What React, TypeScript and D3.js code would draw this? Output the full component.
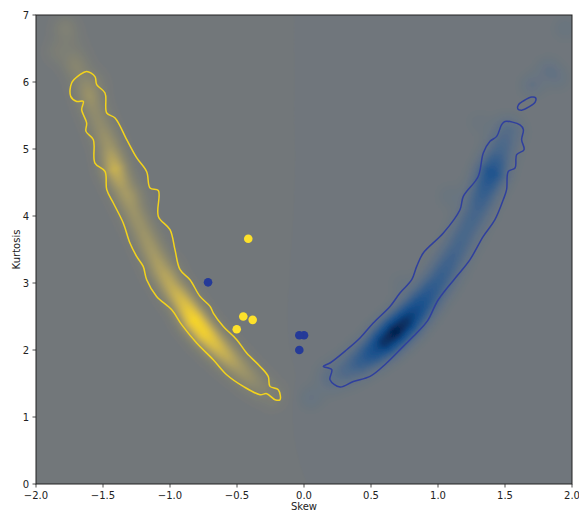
import React, { useMemo } from "react";
import * as d3 from "d3";

// ---------- data ----------
const xTicks = [-2.0, -1.5, -1.0, -0.5, 0.0, 0.5, 1.0, 1.5, 2.0];
const yTicks = [0, 1, 2, 3, 4, 5, 6, 7];

// density ridge (centre line of the yellow density)
const yellowRidgeSkew = [-1.78, -1.72, -1.68, -1.64, -1.58, -1.52, -1.46, -1.41, -1.35, -1.28, -1.21, -1.14, -1.07, -0.99, -0.9, -0.82, -0.74, -0.66, -0.57, -0.48, -0.4, -0.32, -0.24];
const yellowRidgeKurt = [6.8, 6.5, 6.2, 5.95, 5.65, 5.35, 5.05, 4.7, 4.4, 4.1, 3.8, 3.5, 3.2, 2.95, 2.7, 2.45, 2.25, 2.08, 1.9, 1.73, 1.58, 1.45, 1.33];
const yellowRidgeWeight = [0.07, 0.1, 0.16, 0.24, 0.3, 0.33, 0.42, 0.65, 0.45, 0.4, 0.4, 0.45, 0.5, 0.6, 0.75, 0.95, 0.9, 0.75, 0.6, 0.45, 0.35, 0.25, 0.15];

const blueRidgeSkew = [0.22, 0.32, 0.42, 0.52, 0.6, 0.68, 0.76, 0.84, 0.92, 1.0, 1.07, 1.14, 1.21, 1.28, 1.34, 1.4, 1.46, 1.52];
const blueRidgeKurt = [1.6, 1.7, 1.83, 1.98, 2.12, 2.27, 2.42, 2.6, 2.8, 3.02, 3.25, 3.5, 3.78, 4.05, 4.35, 4.64, 4.95, 5.25];
const blueRidgeWeight = [0.2, 0.3, 0.45, 0.65, 0.9, 1.0, 0.9, 0.7, 0.55, 0.45, 0.4, 0.35, 0.33, 0.35, 0.45, 0.6, 0.35, 0.25];

// faint isolated density patches
const yellowFaintSkew = [-1.78, -1.85, -1.6, -1.25, -0.98, -1.72, -1.55];
const yellowFaintKurt = [6.8, 6.45, 5.8, 4.35, 3.25, 6.25, 6.0];
const yellowFaintWeight = [0.1, 0.1, 0.1, 0.07, 0.05, 0.1, 0.08];

const blueFaintSkew = [1.7, 1.82, 1.95, 1.08, 0.05, 1.3, 1.9, 0.72];
const blueFaintKurt = [5.95, 6.2, 6.8, 4.3, 1.28, 5.4, 6.05, 3.0];
const blueFaintWeight = [0.12, 0.1, 0.08, 0.07, 0.1, 0.05, 0.08, 0.05];

// outer contour of the yellow density
const yellowContourSkew = [-1.622, -1.56, -1.547, -1.485, -1.472, -1.41, -1.323, -1.249, -1.174, -1.149, -1.087, -1.087, -1.0, -0.963, -0.925, -0.851, -0.776, -0.701, -0.677, -0.602, -0.502, -0.428, -0.328, -0.267, -0.254, -0.192, -0.179, -0.216, -0.278, -0.328, -0.453, -0.577, -0.677, -0.801, -0.913, -0.987, -1.1, -1.174, -1.2, -1.249, -1.299, -1.349, -1.423, -1.472, -1.485, -1.56, -1.572, -1.627, -1.622, -1.659, -1.647, -1.696, -1.741, -1.734, -1.672];
const yellowContourKurt = [6.158, 6.08, 5.96, 5.836, 5.537, 5.463, 5.139, 4.87, 4.66, 4.418, 4.38, 3.994, 3.796, 3.498, 3.199, 3.049, 2.8, 2.651, 2.552, 2.352, 2.154, 1.955, 1.755, 1.606, 1.457, 1.407, 1.258, 1.258, 1.348, 1.333, 1.457, 1.631, 1.855, 2.104, 2.378, 2.6, 2.8, 3.049, 3.248, 3.397, 3.597, 3.896, 4.194, 4.393, 4.666, 4.79, 5.139, 5.263, 5.388, 5.587, 5.71, 5.71, 5.785, 5.985, 6.109];

// outer contour of the blue density
const blueContourSkew = [1.475, 1.5, 1.612, 1.637, 1.624, 1.642, 1.587, 1.575, 1.525, 1.512, 1.487, 1.425, 1.338, 1.239, 1.14, 1.002, 0.92, 0.841, 0.741, 0.617, 0.493, 0.368, 0.269, 0.194, 0.207, 0.144, 0.194, 0.319, 0.418, 0.517, 0.642, 0.716, 0.804, 0.841, 0.89, 1.04, 1.164, 1.189, 1.3, 1.338, 1.388, 1.438];
const blueContourKurt = [5.363, 5.41, 5.36, 5.288, 5.139, 4.99, 4.915, 4.716, 4.666, 4.393, 4.243, 3.945, 3.696, 3.35, 3.1, 2.75, 2.43, 2.254, 2.054, 1.806, 1.606, 1.531, 1.448, 1.557, 1.706, 1.755, 1.806, 2.004, 2.179, 2.403, 2.65, 2.85, 3.049, 3.248, 3.448, 3.746, 4.094, 4.293, 4.59, 4.94, 5.114, 5.188];

const blueIslandSkew = [1.595, 1.625, 1.68, 1.725, 1.728, 1.7, 1.64, 1.6];
const blueIslandKurt = [5.6, 5.58, 5.63, 5.7, 5.765, 5.775, 5.72, 5.66];

// individual points
const yellowPointSkew = [-0.416, -0.453, -0.383, -0.502];
const yellowPointKurt = [3.66, 2.5, 2.45, 2.31];
const bluePointSkew = [-0.716, 0.0, -0.035, -0.035];
const bluePointKurt = [3.01, 2.22, 2.22, 2.0];

// ---------- layout ----------
const W = 579;
const H = 511;
const PL = 36, PR = 572, PT = 15, PB = 484;

const BG = "#72777a";
const yellowScale = d3.interpolateRgbBasis([BG, "#858470", "#a99c66", "#dcbf48", "#fcd923"]);
const blueScale = d3.interpolateRgbBasis([BG, "#5b6f88", "#2d5b8f", "#0f4c8e", "#06244f"]);

function colorOf(f: number): string {
  if (f >= 0) return yellowScale(Math.min(1, f));
  return blueScale(Math.min(1, -f));
}

type Seg = { ax: number; ay: number; bx: number; by: number; wa: number; wb: number };

function buildSegs(xs: number[], ys: number[], ws: number[], x: any, y: any): Seg[] {
  const segs: Seg[] = [];
  for (let i = 0; i < xs.length - 1; i++) {
    segs.push({ ax: x(xs[i]), ay: y(ys[i]), bx: x(xs[i + 1]), by: y(ys[i + 1]), wa: ws[i], wb: ws[i + 1] });
  }
  return segs;
}

function ridgeValue(px: number, py: number, segs: Seg[], sigma: number): number {
  let best = 0;
  const s2 = 2 * sigma * sigma;
  for (const s of segs) {
    const dx = s.bx - s.ax, dy = s.by - s.ay;
    const L2 = dx * dx + dy * dy;
    let t = ((px - s.ax) * dx + (py - s.ay) * dy) / L2;
    t = Math.max(0, Math.min(1, t));
    const cx = s.ax + t * dx, cy = s.ay + t * dy;
    const d2 = (px - cx) ** 2 + (py - cy) ** 2;
    const w = s.wa + (s.wb - s.wa) * t;
    const v = w * Math.exp(-d2 / s2);
    if (v > best) best = v;
  }
  return best;
}

function blobValue(px: number, py: number, bx: number[], by: number[], bw: number[], sigma: number): number {
  let sum = 0;
  const s2 = 2 * sigma * sigma;
  for (let i = 0; i < bx.length; i++) {
    const d2 = (px - bx[i]) ** 2 + (py - by[i]) ** 2;
    sum += bw[i] * Math.exp(-d2 / s2);
  }
  return sum;
}

export default function App() {
  const x = d3.scaleLinear().domain([-2, 2]).range([PL, PR]);
  const y = d3.scaleLinear().domain([0, 7]).range([PB, PT]);

  const density = useMemo(() => {
    const ySegs = buildSegs(yellowRidgeSkew, yellowRidgeKurt, yellowRidgeWeight, x, y);
    const bSegs = buildSegs(blueRidgeSkew, blueRidgeKurt, blueRidgeWeight, x, y);
    const yfx = yellowFaintSkew.map((v) => x(v));
    const yfy = yellowFaintKurt.map((v) => y(v));
    const bfx = blueFaintSkew.map((v) => x(v));
    const bfy = blueFaintKurt.map((v) => y(v));
    const step = 2;
    const x0 = PL - 8, y0 = PT - 8;
    const nx = Math.ceil((PR - PL + 16) / step) + 1;
    const ny = Math.ceil((PB - PT + 16) / step) + 1;
    const values = new Float64Array(nx * ny);
    for (let j = 0; j < ny; j++) {
      const py = y0 + j * step;
      for (let i = 0; i < nx; i++) {
        const px = x0 + i * step;
        const yv = ridgeValue(px, py, ySegs, 10) + blobValue(px, py, yfx, yfy, yellowFaintWeight, 9);
        const bv = ridgeValue(px, py, bSegs, 11) + blobValue(px, py, bfx, bfy, blueFaintWeight, 9);
        values[j * nx + i] = yv - bv;
      }
    }
    const thresholds = d3.range(-1, 1.0001, 0.02);
    const contours = d3.contours().size([nx, ny]).thresholds(thresholds)(Array.from(values));
    const path = d3.geoPath(d3.geoIdentity().scale(step).translate([x0 - step / 2, y0 - step / 2]) as any);
    return contours.map((c) => ({ d: path(c as any) || "", fill: colorOf(c.value) }));
  }, []);

  const closed = d3
    .line<[number, number]>()
    .x((d) => x(d[0]))
    .y((d) => y(d[1]))
    .curve(d3.curveCatmullRomClosed.alpha(0.5));

  const yellowContour = closed(yellowContourSkew.map((s, i) => [s, yellowContourKurt[i]] as [number, number])) || "";
  const blueContour = closed(blueContourSkew.map((s, i) => [s, blueContourKurt[i]] as [number, number])) || "";
  const blueIsland = closed(blueIslandSkew.map((s, i) => [s, blueIslandKurt[i]] as [number, number])) || "";

  const fmt = d3.format(".1f");
  const font = "'DejaVu Sans', sans-serif";

  return (
    <svg width={W} height={H} style={{ position: "absolute", left: 0, top: 0, background: "#fff" }}>
      <defs>
        <clipPath id="plotClip">
          <rect x={PL} y={PT} width={PR - PL} height={PB - PT} />
        </clipPath>
        <filter id="soft" x="-5%" y="-5%" width="110%" height="110%">
          <feGaussianBlur stdDeviation="1.2" />
        </filter>
      </defs>
      <g clipPath="url(#plotClip)">
        <g filter="url(#soft)">
          <rect x={PL - 10} y={PT - 10} width={PR - PL + 20} height={PB - PT + 20} fill={colorOf(-1)} />
          {density.map((c, i) => (
            <path key={i} d={c.d} fill={c.fill} stroke="none" />
          ))}
        </g>
        <path d={yellowContour} fill="none" stroke="#f3d31c" strokeWidth={1.5} />
        <path d={blueContour} fill="none" stroke="#2f3f9e" strokeWidth={1.5} />
        <path d={blueIsland} fill="none" stroke="#2f3f9e" strokeWidth={1.5} />
        {yellowPointSkew.map((s, i) => (
          <circle key={"y" + i} cx={x(s)} cy={y(yellowPointKurt[i])} r={4.3} fill="#fde12b" />
        ))}
        {bluePointSkew.map((s, i) => (
          <circle key={"b" + i} cx={x(s)} cy={y(bluePointKurt[i])} r={4.3} fill="#253a98" />
        ))}
      </g>
      <rect x={PL} y={PT} width={PR - PL} height={PB - PT} fill="none" stroke="#222" strokeWidth={1} />
      {xTicks.map((t) => (
        <g key={"xt" + t}>
          <line x1={x(t)} x2={x(t)} y1={PB} y2={PB + 3.5} stroke="#222" strokeWidth={0.8} />
          <text x={x(t)} y={PB + 14.5} textAnchor="middle" fontFamily={font} fontSize={10} fill="#222">
            {fmt(t)}
          </text>
        </g>
      ))}
      {yTicks.map((t) => (
        <g key={"yt" + t}>
          <line x1={PL - 3.5} x2={PL} y1={y(t)} y2={y(t)} stroke="#222" strokeWidth={0.8} />
          <text x={PL - 7} y={y(t)} dy="0.35em" textAnchor="end" fontFamily={font} fontSize={10} fill="#222">
            {String(t)}
          </text>
        </g>
      ))}
      <text x={(PL + PR) / 2} y={509.5} textAnchor="middle" fontFamily={font} fontSize={10} fill="#222">
        Skew
      </text>
      <text
        transform={`translate(19.5, ${(PT + PB) / 2}) rotate(-90)`}
        textAnchor="middle"
        fontFamily={font}
        fontSize={10}
        fill="#222"
      >
        Kurtosis
      </text>
    </svg>
  );
}
